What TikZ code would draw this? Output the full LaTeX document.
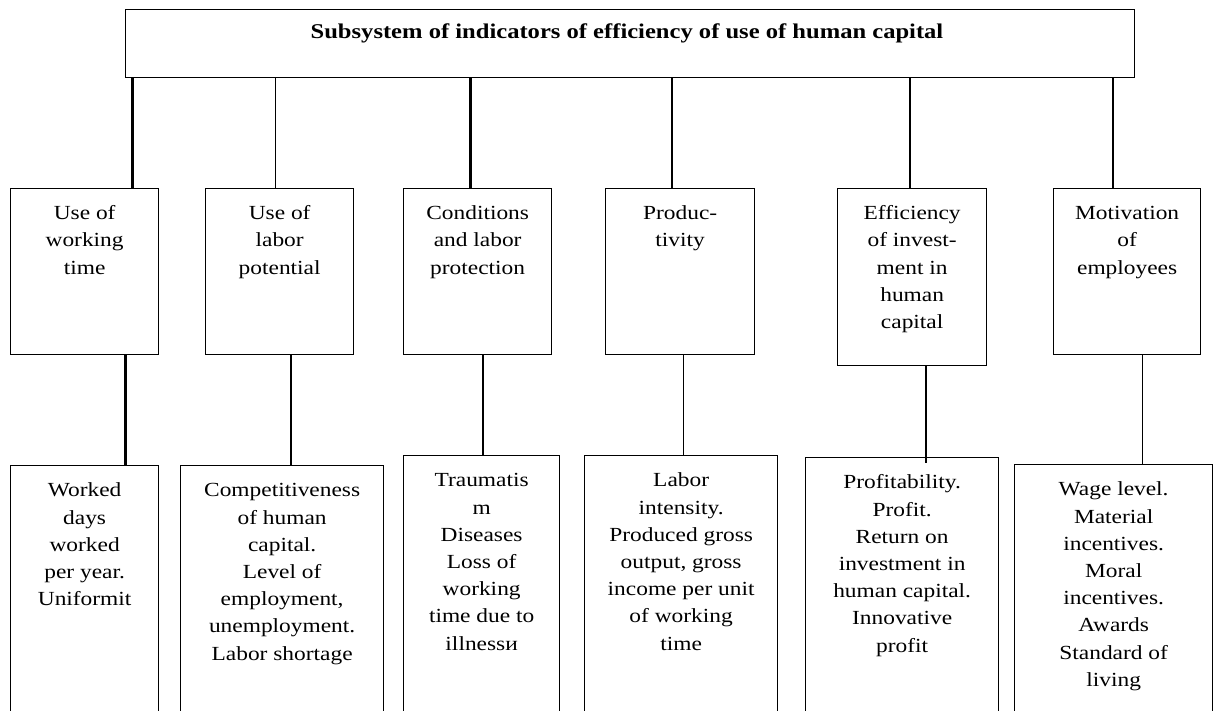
\documentclass[tikz,border=0pt]{standalone}
\usepackage{fontspec}
\setmainfont{Liberation Serif}[FakeStretch=1.17]
\newcommand{\fl}{\rule{0pt}{15pt}}
\begin{document}
\begin{tikzpicture}[x=1pt,y=-1pt,
  box/.style={draw, line width=1.3pt, rectangle, inner sep=0pt, anchor=north west},
  txt/.style={align=center, inner sep=0pt, font=\fontsize{20}{27.2}\selectfont, anchor=north},
  thinln/.style={line width=1.5pt},
  thkln/.style={line width=2.6pt}]
\useasboundingbox (0,0) rectangle (1216,711);
\clip (0,0) rectangle (1216,711);
\fill[white] (0,0) rectangle (1216,711);

% top box
\node[box, minimum width=1009pt, minimum height=68pt] (top) at (124.5,9) {};
\node[font=\fontsize{21}{25}\selectfont\bfseries, anchor=base, inner sep=0pt] (title) at (627,38.6)
  {Subsystem of indicators of efficiency of use of human capital};

% middle boxes
\node[box, minimum width=148pt, minimum height=166pt] (m1) at (10,188) {};
\node[box, minimum width=148pt, minimum height=166pt] (m2) at (205,188) {};
\node[box, minimum width=148pt, minimum height=166pt] (m3) at (403,188) {};
\node[box, minimum width=149pt, minimum height=166pt] (m4) at (605,188) {};
\node[box, minimum width=149pt, minimum height=177pt] (m5) at (837,188) {};
\node[box, minimum width=147pt, minimum height=166pt] (m6) at (1053,188) {};

\node[txt] (m1t) at ([yshift=-16.6pt]m1.north) {\fl Use of\\working\\time};
\node[txt] (m2t) at ([yshift=-16.6pt]m2.north) {\fl Use of\\labor\\potential};
\node[txt] (m3t) at ([yshift=-16.6pt]m3.north) {\fl Conditions\\and labor\\protection};
\node[txt] (m4t) at ([yshift=-16.6pt]m4.north) {\fl Produc-\\tivity};
\node[txt] (m5t) at ([yshift=-16.6pt]m5.north) {\fl Efficiency\\of invest-\\ment in\\human\\capital};
\node[txt] (m6t) at ([yshift=-16.6pt]m6.north) {\fl Motivation\\of\\employees};

% bottom boxes (cut by the lower edge)
\node[box, minimum width=148pt, minimum height=260pt] (b1) at (10,465) {};
\node[box, minimum width=203pt, minimum height=260pt] (b2) at (180,465) {};
\node[box, minimum width=156pt, minimum height=270pt] (b3) at (403,455) {};
\node[box, minimum width=193pt, minimum height=270pt] (b4) at (584,455) {};
\node[box, minimum width=193pt, minimum height=268pt] (b5) at (805,457) {};
\node[box, minimum width=198pt, minimum height=262pt] (b6) at (1014,464) {};

\node[txt] (b1t) at ([yshift=-16.6pt]b1.north) {\fl Worked\\days\\worked\\per year.\\Uniformit};
\node[txt] (b2t) at ([yshift=-16.6pt]b2.north) {\fl Competitiveness\\of human\\capital.\\Level of\\employment,\\unemployment.\\Labor shortage};
\node[txt] (b3t) at ([yshift=-16.6pt]b3.north) {\fl Traumatis\\m\\Diseases\\Loss of\\working\\time due to\\illnessи};
\node[txt] (b4t) at ([yshift=-16.6pt]b4.north) {\fl Labor\\intensity.\\Produced gross\\output, gross\\income per unit\\of working\\time};
\node[txt] (b5t) at ([yshift=-16.6pt]b5.north) {\fl Profitability.\\Profit.\\Return on\\investment in\\human capital.\\Innovative\\profit};
\node[txt] (b6t) at ([yshift=-16.6pt]b6.north) {\fl Wage level.\\Material\\incentives.\\Moral\\incentives.\\Awards\\Standard of\\living};

% connector end points
\coordinate (u1) at (132.4,188);
\coordinate (u2) at (275.5,188);
\coordinate (u3) at (470.4,188);
\coordinate (u4) at (672,188);
\coordinate (u5) at (910,188);
\coordinate (u6) at (1113,188);
\coordinate (l1) at (125.7,465);
\coordinate (l2) at (291,465);
\coordinate (l3) at (483,455);
\coordinate (l4) at (683.4,455);
\coordinate (l5) at (926,463);
\coordinate (l6) at (1142.7,464);

% upper connectors
\draw[thkln] (top.south -| u1) -- (u1);
\draw[thinln] (top.south -| u2) -- (u2);
\draw[thkln] (top.south -| u3) -- (u3);
\draw[thinln] (top.south -| u4) -- (u4);
\draw[thinln] (top.south -| u5) -- (u5);
\draw[thinln] (top.south -| u6) -- (u6);

% lower connectors
\draw[thkln] (m1.south -| l1) -- (l1);
\draw[thkln] (m2.south -| l2) -- (l2);
\draw[thinln] (m3.south -| l3) -- (l3);
\draw[thinln] (m4.south -| l4) -- (l4);
\draw[thkln] (m5.south -| l5) -- (l5);
\draw[thinln] (m6.south -| l6) -- (l6);
\end{tikzpicture}
\end{document}
